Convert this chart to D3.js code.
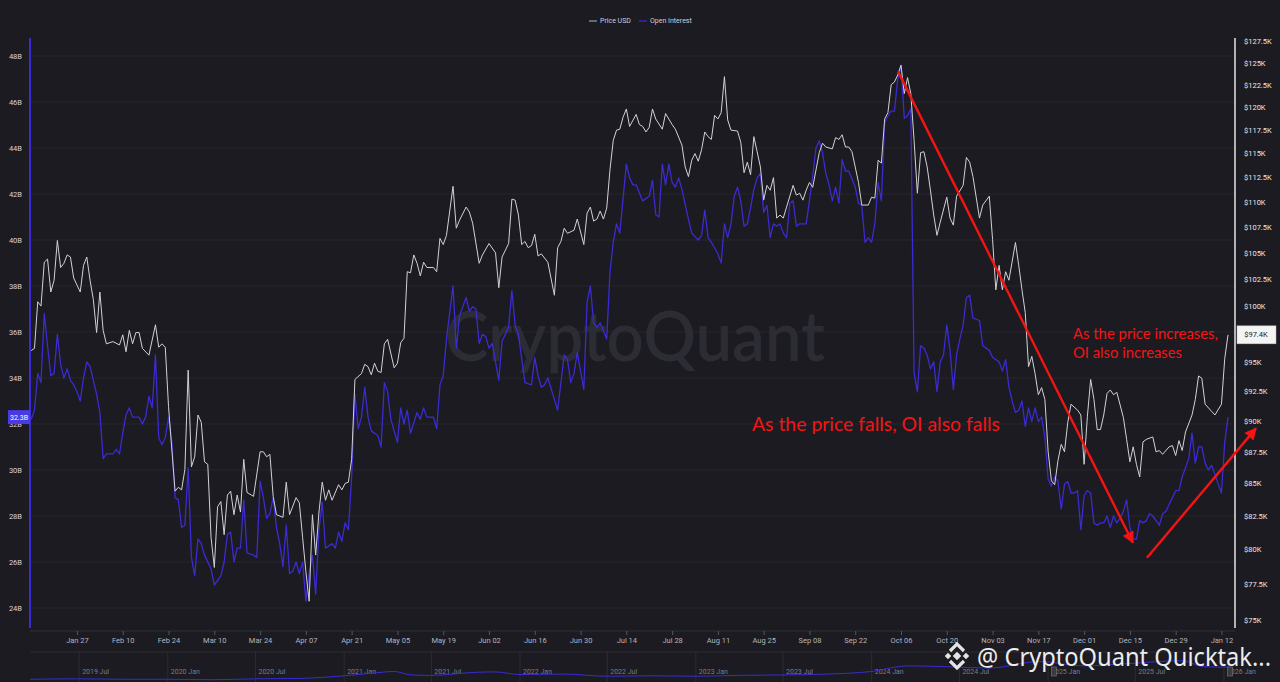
<!DOCTYPE html>
<html lang="en">
<head>
<meta charset="utf-8">
<title>Price USD vs Open Interest</title>
<script src="https://cdn.jsdelivr.net/npm/d3@7"></script>
<style>
  html, body { margin: 0; padding: 0; background: #1b1b21; }
  svg { display: block; }
  text { font-family: Roboto, "Noto Sans", sans-serif; }
</style>
</head>
<body>
<svg id="chart" width="1280" height="682"></svg>
<script>
// ---- data ----
// BTC price, thousands of USD
var priceSeries = [
  ["2025-01-13",96.0],["2025-01-14",96.2],["2025-01-15",100.4],["2025-01-16",100.0],["2025-01-17",104.1],["2025-01-18",104.4],
  ["2025-01-19",101.3],["2025-01-20",102.4],["2025-01-21",106.2],["2025-01-22",103.6],["2025-01-23",104.0],["2025-01-24",104.8],
  ["2025-01-25",104.6],["2025-01-26",102.6],["2025-01-28",101.3],["2025-01-29",103.8],["2025-01-30",104.6],["2025-01-31",102.4],
  ["2025-02-01",100.6],["2025-02-02",97.6],["2025-02-03",101.3],["2025-02-04",97.8],["2025-02-05",96.6],["2025-02-07",96.8],
  ["2025-02-09",96.5],["2025-02-10",97.4],["2025-02-11",95.9],["2025-02-12",97.8],["2025-02-13",96.6],["2025-02-14",97.6],
  ["2025-02-15",97.6],["2025-02-16",96.2],["2025-02-18",95.6],["2025-02-20",98.3],["2025-02-21",96.3],["2025-02-22",96.6],
  ["2025-02-23",96.3],["2025-02-24",91.2],["2025-02-26",84.4],["2025-02-27",84.7],["2025-02-28",84.5],["2025-03-01",86.1],
  ["2025-03-02",94.3],["2025-03-03",86.3],["2025-03-04",87.1],["2025-03-05",90.5],["2025-03-06",89.9],["2025-03-07",86.7],
  ["2025-03-08",86.5],["2025-03-09",80.9],["2025-03-10",78.7],["2025-03-11",83.2],["2025-03-12",83.6],["2025-03-13",81.1],
  ["2025-03-14",84.1],["2025-03-15",84.4],["2025-03-16",82.6],["2025-03-17",84.1],["2025-03-18",82.8],["2025-03-19",86.9],
  ["2025-03-20",84.3],["2025-03-22",84.0],["2025-03-24",87.5],["2025-03-25",87.5],["2025-03-26",87.1],["2025-03-27",87.3],
  ["2025-03-28",84.0],["2025-03-29",82.6],["2025-03-31",82.4],["2025-04-01",85.1],["2025-04-02",82.6],["2025-04-04",83.9],
  ["2025-04-05",83.5],["2025-04-06",80.9],["2025-04-07",78.4],["2025-04-08",76.3],["2025-04-09",82.6],["2025-04-10",79.6],
  ["2025-04-11",82.8],["2025-04-12",85.1],["2025-04-13",83.7],["2025-04-14",84.5],["2025-04-15",83.7],["2025-04-17",84.9],
  ["2025-04-18",84.5],["2025-04-19",85.0],["2025-04-20",85.1],["2025-04-21",86.9],["2025-04-22",93.5],["2025-04-24",94.0],
  ["2025-04-25",94.8],["2025-04-26",94.6],["2025-04-27",93.9],["2025-04-28",94.9],["2025-04-29",94.2],["2025-04-30",94.1],
  ["2025-05-01",96.6],["2025-05-02",97.0],["2025-05-04",94.5],["2025-05-05",94.9],["2025-05-06",96.7],["2025-05-07",97.1],
  ["2025-05-08",103.2],["2025-05-09",103.1],["2025-05-10",104.8],["2025-05-11",104.0],["2025-05-12",102.8],["2025-05-13",104.1],
  ["2025-05-14",103.6],["2025-05-16",103.6],["2025-05-17",103.2],["2025-05-18",106.4],["2025-05-19",105.8],["2025-05-20",106.7],
  ["2025-05-22",111.6],["2025-05-23",107.4],["2025-05-24",108.2],["2025-05-26",109.5],["2025-05-27",109.0],["2025-05-28",107.9],
  ["2025-05-30",104.0],["2025-05-31",104.8],["2025-06-02",105.9],["2025-06-04",105.0],["2025-06-05",101.7],["2025-06-06",104.6],
  ["2025-06-08",105.9],["2025-06-09",110.3],["2025-06-10",110.2],["2025-06-11",108.7],["2025-06-12",105.8],["2025-06-13",106.1],
  ["2025-06-14",105.5],["2025-06-15",105.7],["2025-06-16",106.8],["2025-06-17",104.7],["2025-06-18",104.9],["2025-06-20",104.1],
  ["2025-06-22",101.0],["2025-06-23",105.5],["2025-06-24",106.1],["2025-06-25",107.4],["2025-06-26",106.9],["2025-06-28",107.2],
  ["2025-06-29",108.3],["2025-07-01",105.8],["2025-07-02",108.9],["2025-07-03",109.5],["2025-07-04",108.1],["2025-07-05",108.3],
  ["2025-07-06",109.1],["2025-07-07",108.3],["2025-07-08",109.4],["2025-07-09",113.3],["2025-07-10",116.4],["2025-07-11",117.5],
  ["2025-07-12",117.6],["2025-07-13",118.9],["2025-07-14",119.8],["2025-07-15",117.9],["2025-07-17",119.2],["2025-07-18",118.1],
  ["2025-07-19",117.9],["2025-07-20",117.3],["2025-07-21",117.8],["2025-07-22",119.8],["2025-07-23",118.7],["2025-07-25",117.6],
  ["2025-07-26",119.3],["2025-07-28",118.1],["2025-07-29",117.6],["2025-07-31",115.9],["2025-08-01",113.6],["2025-08-02",112.6],
  ["2025-08-03",114.3],["2025-08-04",115.0],["2025-08-05",114.2],["2025-08-06",115.4],["2025-08-07",117.3],["2025-08-08",116.8],
  ["2025-08-09",116.5],["2025-08-10",119.1],["2025-08-11",118.7],["2025-08-12",119.4],["2025-08-13",123.4],["2025-08-14",118.6],
  ["2025-08-15",117.5],["2025-08-17",117.4],["2025-08-18",116.2],["2025-08-19",113.0],["2025-08-20",114.1],["2025-08-21",112.8],
  ["2025-08-22",116.8],["2025-08-23",115.2],["2025-08-24",113.6],["2025-08-25",110.2],["2025-08-26",111.7],["2025-08-27",111.2],
  ["2025-08-28",112.5],["2025-08-29",108.4],["2025-08-30",108.7],["2025-08-31",108.4],["2025-09-01",109.5],["2025-09-03",111.7],
  ["2025-09-04",110.7],["2025-09-05",110.9],["2025-09-06",110.2],["2025-09-07",111.2],["2025-09-08",112.0],["2025-09-09",111.5],
  ["2025-09-11",115.1],["2025-09-12",116.1],["2025-09-13",115.7],["2025-09-15",115.5],["2025-09-16",116.7],["2025-09-17",116.5],
  ["2025-09-18",117.0],["2025-09-19",115.7],["2025-09-20",115.7],["2025-09-21",115.2],["2025-09-22",113.6],["2025-09-23",112.0],
  ["2025-09-24",109.7],["2025-09-26",109.7],["2025-09-27",110.5],["2025-09-28",110.4],["2025-09-29",114.3],["2025-09-30",114.0],
  ["2025-10-01",118.7],["2025-10-02",119.4],["2025-10-03",122.5],["2025-10-04",122.8],["2025-10-05",123.6],["2025-10-06",124.7],
  ["2025-10-07",121.5],["2025-10-08",123.3],["2025-10-09",121.5],["2025-10-10",116.4],["2025-10-11",110.9],["2025-10-12",115.1],
  ["2025-10-13",115.2],["2025-10-14",113.6],["2025-10-15",111.2],["2025-10-16",108.7],["2025-10-17",106.7],["2025-10-18",108.0],
  ["2025-10-20",110.5],["2025-10-21",108.4],["2025-10-22",107.7],["2025-10-23",110.6],["2025-10-25",111.7],["2025-10-26",114.6],
  ["2025-10-27",114.1],["2025-10-28",112.6],["2025-10-30",108.4],["2025-10-31",109.7],["2025-11-02",110.6],["2025-11-03",106.3],
  ["2025-11-04",101.5],["2025-11-05",103.8],["2025-11-06",101.5],["2025-11-07",103.2],["2025-11-08",102.4],["2025-11-10",106.0],
  ["2025-11-11",103.8],["2025-11-12",101.5],["2025-11-13",99.4],["2025-11-14",94.6],["2025-11-15",95.5],["2025-11-16",94.0],
  ["2025-11-17",92.2],["2025-11-18",92.8],["2025-11-19",91.8],["2025-11-20",87.5],["2025-11-21",85.2],["2025-11-22",84.9],
  ["2025-11-23",86.8],["2025-11-24",88.1],["2025-11-25",87.5],["2025-11-26",89.9],["2025-11-27",91.4],["2025-11-29",90.9],
  ["2025-11-30",90.5],["2025-12-01",86.5],["2025-12-02",90.4],["2025-12-03",93.5],["2025-12-04",91.8],["2025-12-05",89.3],
  ["2025-12-06",89.3],["2025-12-07",90.5],["2025-12-08",92.3],["2025-12-09",92.6],["2025-12-10",92.2],["2025-12-11",92.4],
  ["2025-12-13",90.3],["2025-12-14",88.5],["2025-12-15",86.7],["2025-12-16",87.9],["2025-12-17",86.5],["2025-12-18",85.5],
  ["2025-12-19",88.3],["2025-12-20",88.5],["2025-12-22",88.7],["2025-12-23",87.5],["2025-12-24",87.6],["2025-12-25",87.3],
  ["2025-12-27",87.9],["2025-12-28",88.0],["2025-12-29",87.2],["2025-12-30",88.4],["2025-12-31",87.6],["2026-01-01",89.1],
  ["2026-01-03",90.5],["2026-01-04",91.8],["2026-01-05",93.8],["2026-01-06",93.6],["2026-01-07",91.4],["2026-01-09",90.8],
  ["2026-01-10",90.5],["2026-01-12",91.4],["2026-01-13",95.3],["2026-01-14",97.4]
];

// open interest, billions of USD
var oiSeries = [
  ["2025-01-13",32.2],["2025-01-14",32.6],["2025-01-15",34.2],["2025-01-16",33.8],["2025-01-17",36.8],["2025-01-18",35.4],
  ["2025-01-19",34.1],["2025-01-20",34.2],["2025-01-21",35.9],["2025-01-22",34.6],["2025-01-23",34.0],["2025-01-24",34.4],
  ["2025-01-25",33.9],["2025-01-26",33.7],["2025-01-27",33.4],["2025-01-28",33.0],["2025-01-29",34.0],["2025-01-30",34.7],
  ["2025-01-31",34.5],["2025-02-01",33.9],["2025-02-02",33.3],["2025-02-03",32.5],["2025-02-04",30.5],["2025-02-05",30.7],
  ["2025-02-07",30.7],["2025-02-08",30.9],["2025-02-09",30.7],["2025-02-10",31.6],["2025-02-11",32.4],["2025-02-12",32.7],
  ["2025-02-13",32.3],["2025-02-15",32.3],["2025-02-16",32.0],["2025-02-17",32.3],["2025-02-18",33.2],["2025-02-19",32.7],
  ["2025-02-20",35.0],["2025-02-21",31.4],["2025-02-22",31.1],["2025-02-23",31.4],["2025-02-24",32.3],["2025-02-25",31.2],
  ["2025-02-26",28.8],["2025-02-27",28.7],["2025-02-28",27.5],["2025-03-01",27.6],["2025-03-02",30.1],["2025-03-03",26.2],
  ["2025-03-04",25.4],["2025-03-05",27.0],["2025-03-06",26.8],["2025-03-07",26.3],["2025-03-09",25.7],["2025-03-10",25.0],
  ["2025-03-12",25.4],["2025-03-13",26.0],["2025-03-14",27.2],["2025-03-15",27.3],["2025-03-16",26.0],["2025-03-17",26.6],
  ["2025-03-18",26.6],["2025-03-19",28.7],["2025-03-20",26.4],["2025-03-22",26.3],["2025-03-23",26.2],["2025-03-24",29.5],
  ["2025-03-25",28.8],["2025-03-26",27.9],["2025-03-27",28.1],["2025-03-28",28.8],["2025-03-29",27.5],["2025-03-30",26.8],
  ["2025-03-31",25.8],["2025-04-01",27.6],["2025-04-02",25.5],["2025-04-03",25.6],["2025-04-04",26.0],["2025-04-05",25.5],
  ["2025-04-06",26.0],["2025-04-07",24.3],["2025-04-08",25.5],["2025-04-09",26.3],["2025-04-10",24.6],["2025-04-11",27.4],
  ["2025-04-12",28.6],["2025-04-13",26.6],["2025-04-14",26.7],["2025-04-15",26.8],["2025-04-16",26.6],["2025-04-17",27.3],
  ["2025-04-18",26.9],["2025-04-19",27.7],["2025-04-20",27.4],["2025-04-21",29.7],["2025-04-22",33.3],["2025-04-23",31.8],
  ["2025-04-24",32.3],["2025-04-25",33.6],["2025-04-26",32.3],["2025-04-27",31.7],["2025-04-29",31.5],["2025-04-30",31.0],
  ["2025-05-01",33.8],["2025-05-02",33.4],["2025-05-03",32.2],["2025-05-05",31.2],["2025-05-06",32.7],["2025-05-07",32.0],
  ["2025-05-08",32.6],["2025-05-09",31.6],["2025-05-11",32.5],["2025-05-12",32.2],["2025-05-13",32.7],["2025-05-14",32.3],
  ["2025-05-16",32.3],["2025-05-17",31.8],["2025-05-18",33.7],["2025-05-19",34.1],["2025-05-20",35.7],["2025-05-22",38.0],
  ["2025-05-23",35.3],["2025-05-24",36.7],["2025-05-26",37.5],["2025-05-27",36.9],["2025-05-28",37.1],["2025-05-29",37.0],
  ["2025-05-30",35.5],["2025-05-31",35.9],["2025-06-01",35.8],["2025-06-02",35.3],["2025-06-03",35.5],["2025-06-05",33.9],
  ["2025-06-06",35.6],["2025-06-08",36.2],["2025-06-09",37.8],["2025-06-10",36.3],["2025-06-11",35.9],["2025-06-13",33.8],
  ["2025-06-15",33.7],["2025-06-16",34.9],["2025-06-17",34.1],["2025-06-18",33.6],["2025-06-19",33.7],["2025-06-20",34.0],
  ["2025-06-23",32.6],["2025-06-25",35.0],["2025-06-26",34.8],["2025-06-27",33.8],["2025-06-28",34.2],["2025-06-29",35.1],
  ["2025-07-01",33.5],["2025-07-02",37.3],["2025-07-03",38.0],["2025-07-04",36.4],["2025-07-05",36.2],["2025-07-06",36.4],
  ["2025-07-08",35.7],["2025-07-09",38.6],["2025-07-10",39.9],["2025-07-11",40.7],["2025-07-12",40.3],["2025-07-14",43.3],
  ["2025-07-15",42.7],["2025-07-16",42.4],["2025-07-17",42.4],["2025-07-19",41.7],["2025-07-21",41.9],["2025-07-22",42.6],
  ["2025-07-23",41.1],["2025-07-24",41.0],["2025-07-25",43.3],["2025-07-26",42.4],["2025-07-27",43.3],["2025-07-28",42.5],
  ["2025-07-29",42.3],["2025-07-30",42.7],["2025-07-31",42.2],["2025-08-02",40.9],["2025-08-03",40.3],["2025-08-05",40.0],
  ["2025-08-06",40.2],["2025-08-07",41.3],["2025-08-08",40.1],["2025-08-09",39.9],["2025-08-11",39.4],["2025-08-12",39.0],
  ["2025-08-13",40.7],["2025-08-14",40.1],["2025-08-15",40.7],["2025-08-16",41.9],["2025-08-17",42.3],["2025-08-18",41.7],
  ["2025-08-19",40.6],["2025-08-20",40.7],["2025-08-21",41.4],["2025-08-22",42.2],["2025-08-23",42.7],["2025-08-24",42.9],
  ["2025-08-25",41.2],["2025-08-26",41.5],["2025-08-27",40.1],["2025-08-28",40.7],["2025-08-29",40.6],["2025-08-30",40.7],
  ["2025-08-31",40.3],["2025-09-01",40.1],["2025-09-02",41.6],["2025-09-03",41.7],["2025-09-04",40.6],["2025-09-05",40.7],
  ["2025-09-07",40.7],["2025-09-08",41.7],["2025-09-09",42.8],["2025-09-10",44.0],["2025-09-11",44.3],["2025-09-12",43.8],
  ["2025-09-13",42.9],["2025-09-14",42.4],["2025-09-15",41.7],["2025-09-16",42.3],["2025-09-17",41.6],["2025-09-18",43.5],
  ["2025-09-19",43.0],["2025-09-20",43.0],["2025-09-22",42.3],["2025-09-23",41.6],["2025-09-24",41.5],["2025-09-25",39.9],
  ["2025-09-26",40.1],["2025-09-27",39.9],["2025-09-28",40.7],["2025-09-29",42.5],["2025-09-30",41.7],["2025-10-01",45.1],
  ["2025-10-02",45.4],["2025-10-03",45.6],["2025-10-04",45.6],["2025-10-05",47.0],["2025-10-06",47.6],["2025-10-07",45.3],
  ["2025-10-08",45.4],["2025-10-09",45.7],["2025-10-10",34.2],["2025-10-11",33.4],["2025-10-12",35.4],["2025-10-13",35.3],
  ["2025-10-14",35.0],["2025-10-15",34.4],["2025-10-16",34.7],["2025-10-17",33.4],["2025-10-18",34.7],["2025-10-19",35.0],
  ["2025-10-20",36.3],["2025-10-21",35.2],["2025-10-22",33.5],["2025-10-23",35.0],["2025-10-24",35.7],["2025-10-25",36.3],
  ["2025-10-26",37.5],["2025-10-27",37.6],["2025-10-28",36.6],["2025-10-30",36.5],["2025-10-31",35.4],["2025-11-02",35.2],
  ["2025-11-03",34.9],["2025-11-05",34.7],["2025-11-06",34.3],["2025-11-07",34.8],["2025-11-08",33.6],["2025-11-09",33.0],
  ["2025-11-10",32.5],["2025-11-11",32.6],["2025-11-12",33.0],["2025-11-13",31.9],["2025-11-14",32.7],["2025-11-15",32.1],
  ["2025-11-16",32.7],["2025-11-17",32.1],["2025-11-18",32.3],["2025-11-19",31.4],["2025-11-20",29.6],["2025-11-21",29.3],
  ["2025-11-22",29.7],["2025-11-23",29.5],["2025-11-24",28.3],["2025-11-25",29.4],["2025-11-26",29.5],["2025-11-27",29.0],
  ["2025-11-28",29.0],["2025-11-29",29.1],["2025-11-30",27.4],["2025-12-01",28.9],["2025-12-02",29.1],["2025-12-03",29.0],
  ["2025-12-04",27.7],["2025-12-05",27.6],["2025-12-06",27.7],["2025-12-07",27.7],["2025-12-08",28.0],["2025-12-09",27.5],
  ["2025-12-10",28.0],["2025-12-11",27.7],["2025-12-12",27.9],["2025-12-13",28.2],["2025-12-14",28.7],["2025-12-15",27.5],
  ["2025-12-16",27.0],["2025-12-17",27.0],["2025-12-18",27.8],["2025-12-19",27.7],["2025-12-20",27.8],["2025-12-21",28.1],
  ["2025-12-22",28.0],["2025-12-24",27.6],["2025-12-25",28.1],["2025-12-26",28.2],["2025-12-27",28.5],["2025-12-28",28.8],
  ["2025-12-29",29.1],["2025-12-30",29.1],["2025-12-31",29.7],["2026-01-01",30.1],["2026-01-02",30.5],["2026-01-03",31.6],
  ["2026-01-04",30.3],["2026-01-05",31.0],["2026-01-06",31.0],["2026-01-07",30.3],["2026-01-08",30.0],["2026-01-09",30.2],
  ["2026-01-12",29.0],["2026-01-13",31.2],["2026-01-14",32.3]
];

// long-range open interest for the navigator strip, billions of USD
var navSeries = [
  ["2019-03-21",4],["2019-07-01",5],["2019-10-01",4],["2020-01-01",4],["2020-04-01",3],["2020-07-01",5],
  ["2020-10-01",6],["2021-01-01",12],["2021-03-01",18],["2021-04-15",22],["2021-05-20",14],["2021-07-01",13],
  ["2021-10-01",20],["2021-11-10",21],["2022-01-01",15],["2022-04-01",16],["2022-07-01",11],["2022-10-01",12],
  ["2023-01-01",11],["2023-04-01",13],["2023-07-01",14],["2023-10-01",16],["2024-01-01",22],["2024-03-15",35],
  ["2024-06-01",33],["2024-09-01",30],["2024-12-15",45],["2025-03-15",35],["2025-06-15",40],["2025-10-06",47],
  ["2025-11-20",33],["2026-01-14",32]
];

var xTickDates = ["2025-01-27","2025-02-10","2025-02-24","2025-03-10","2025-03-24","2025-04-07","2025-04-21",
  "2025-05-05","2025-05-19","2025-06-02","2025-06-16","2025-06-30","2025-07-14","2025-07-28","2025-08-11",
  "2025-08-25","2025-09-08","2025-09-22","2025-10-06","2025-10-20","2025-11-03","2025-11-17","2025-12-01",
  "2025-12-15","2025-12-29","2026-01-12"];
var navTickDates = ["2019-07-01","2020-01-01","2020-07-01","2021-01-01","2021-07-01","2022-01-01","2022-07-01",
  "2023-01-01","2023-07-01","2024-01-01","2024-07-01","2025-01-01","2025-07-01","2026-01-01"];
var priceTicks = [75, 77.5, 80, 82.5, 85, 87.5, 90, 92.5, 95, 97.5, 100, 102.5, 105, 107.5, 110, 112.5, 115, 117.5, 120, 122.5, 125, 127.5];
var oiTicks = [24, 26, 28, 30, 32, 34, 36, 38, 40, 42, 44, 46, 48];
var legendNames = ["Price USD", "Open Interest"];

// annotation anchors in data space: [date, price]
var fallArrow = [["2025-10-05T02:00", 124.0], ["2025-12-15T22:00", 80.5]];
var riseArrow = [["2025-12-20T05:00", 79.4], ["2026-01-22T13:00", 89.4]];
var fallNote = { text: "As the price falls, OI also falls", at: ["2025-08-21T10:00", 89.2] };
var riseNote = { lines: ["As the price increases,", "OI also increases"], at: ["2025-11-27T14:00", 97.0] };

// ---- layout ----
var W = 1280, H = 682;
var plotLeft = 30, plotRight = 1235, plotTop = 38, plotBottom = 628;
var axisY = 631, navTop = 652;
var PRICE_COLOR = "#d2d2d6", OI_COLOR = "#3b2bd2", RED = "#f41414";

var parse = d3.utcParse("%Y-%m-%d");
var parseT = d3.utcParse("%Y-%m-%dT%H:%M");
function toDate(s) { return s.length > 10 ? parseT(s) : parse(s); }

var x = d3.scaleUtc()
  .domain([parse("2025-01-13"), parse("2026-01-14")])
  .range([31.2, 1228]);
var yPrice = d3.scaleLog().domain([75, 127.5]).range([620, 41]);
var yOI = d3.scaleLinear().domain([24, 48]).range([608, 56]);
var xNav = d3.scaleUtc().domain([parse("2019-03-21"), parse("2026-01-24")]).range([plotLeft, plotRight]);
var yNav = d3.scaleLinear().domain([0, 60]).range([681, 655]);

var svg = d3.select("#chart");
svg.append("rect").attr("width", W).attr("height", H).attr("fill", "#1b1b21");

// gridlines follow the left axis
svg.append("g").selectAll("line").data(oiTicks).join("line")
  .attr("x1", plotLeft).attr("x2", plotRight)
  .attr("y1", d => yOI(d)).attr("y2", d => yOI(d))
  .attr("stroke", "#26262d").attr("stroke-width", 1);

// watermark
svg.append("text")
  .attr("x", 445).attr("y", 361)
  .attr("textLength", 380).attr("lengthAdjust", "spacingAndGlyphs")
  .style("font-family", "Lato, 'Noto Sans', sans-serif")
  .style("font-weight", 600).style("font-size", "70px")
  .attr("fill", "#2c2c35")
  .text("CryptoQuant");

// left axis (OI)
var leftAxis = svg.append("g").attr("transform", "translate(" + (plotLeft - 1) + ",0)")
  .call(d3.axisLeft(yOI).tickValues(oiTicks).tickSize(0).tickPadding(7).tickFormat(d => d + "B"));
leftAxis.select(".domain").remove();
leftAxis.selectAll("text").attr("fill", "#d6d4e6").style("font-size", "7.5px");
svg.append("line").attr("x1", plotLeft).attr("x2", plotLeft).attr("y1", plotTop).attr("y2", plotBottom)
  .attr("stroke", OI_COLOR).attr("stroke-width", 2);

// right axis (price, log)
var rightAxis = svg.append("g").attr("transform", "translate(" + plotRight + ",0)")
  .call(d3.axisRight(yPrice).tickValues(priceTicks).tickSize(0).tickPadding(9).tickFormat(d => "$" + d + "K"));
rightAxis.select(".domain").remove();
rightAxis.selectAll("text").attr("fill", "#e8e8ee").style("font-size", "7.5px");
svg.append("line").attr("x1", plotRight).attr("x2", plotRight).attr("y1", plotTop).attr("y2", plotBottom)
  .attr("stroke", "#e6e6e6").attr("stroke-width", 1.5);

// bottom axis
svg.append("line").attr("x1", plotLeft).attr("x2", plotRight).attr("y1", axisY).attr("y2", axisY)
  .attr("stroke", "#303038");
var bottomAxis = svg.append("g").attr("transform", "translate(0," + axisY + ")")
  .call(d3.axisBottom(x).tickValues(xTickDates.map(parse)).tickSize(4).tickPadding(3)
    .tickFormat(d3.utcFormat("%b %d")));
bottomAxis.select(".domain").remove();
bottomAxis.selectAll("line").attr("stroke", "#55555e");
bottomAxis.selectAll("text").attr("fill", "#b4b4bc").style("font-size", "7.5px");

// series
var priceData = priceSeries.map(d => ({ date: parse(d[0]), value: d[1] }));
var oiData = oiSeries.map(d => ({ date: parse(d[0]), value: d[1] }));

svg.append("path").datum(oiData)
  .attr("fill", "none").attr("stroke", OI_COLOR).attr("stroke-width", 1.3).attr("stroke-linejoin", "round")
  .attr("d", d3.line().x(d => x(d.date)).y(d => yOI(d.value)));
svg.append("path").datum(priceData)
  .attr("fill", "none").attr("stroke", PRICE_COLOR).attr("stroke-width", 1).attr("stroke-linejoin", "round")
  .attr("d", d3.line().x(d => x(d.date)).y(d => yPrice(d.value)));

// last-value badges
var lastOI = oiData[oiData.length - 1], lastPrice = priceData[priceData.length - 1];
svg.append("rect").attr("x", 8).attr("y", yOI(lastOI.value) - 7).attr("width", 22).attr("height", 14)
  .attr("fill", "#4a3ae4");
svg.append("text").attr("x", 19).attr("y", yOI(lastOI.value)).attr("dy", "0.35em")
  .attr("text-anchor", "middle").attr("fill", "#fff").style("font-size", "7px")
  .text(lastOI.value.toFixed(1) + "B");
svg.append("rect").attr("x", plotRight + 2).attr("y", yPrice(lastPrice.value) - 9).attr("width", 39).attr("height", 18)
  .attr("fill", "#f4f4f4").attr("stroke", "#bbb").attr("stroke-width", 0.5);
svg.append("text").attr("x", plotRight + 21).attr("y", yPrice(lastPrice.value)).attr("dy", "0.35em")
  .attr("text-anchor", "middle").attr("fill", "#222").style("font-size", "7.5px")
  .text("$" + lastPrice.value.toFixed(1) + "K");

// legend
var legendColors = [PRICE_COLOR, OI_COLOR];
var legendX = [589, 639];
legendNames.forEach(function (name, i) {
  svg.append("line").attr("x1", legendX[i]).attr("x2", legendX[i] + 8).attr("y1", 21).attr("y2", 21)
    .attr("stroke", i === 0 ? "#9a9aa2" : legendColors[i]).attr("stroke-width", 1.2);
  svg.append("text").attr("x", legendX[i] + 11).attr("y", 21).attr("dy", "0.35em")
    .attr("fill", "#cfcfd6").style("font-size", "7px").text(name);
});

// navigator strip
svg.append("line").attr("x1", plotLeft).attr("x2", plotRight).attr("y1", navTop).attr("y2", navTop)
  .attr("stroke", "#2c2c33");
var navTicks = navTickDates.map(parse);
svg.append("g").selectAll("line").data(navTicks).join("line")
  .attr("x1", d => xNav(d)).attr("x2", d => xNav(d)).attr("y1", navTop).attr("y2", H)
  .attr("stroke", "#2c2c33");
svg.append("g").selectAll("text").data(navTicks).join("text")
  .attr("x", d => xNav(d) + 3).attr("y", 674)
  .attr("fill", "#7c7c86").style("font-size", "7px")
  .text(d3.utcFormat("%Y %b"));
svg.append("path").datum(navSeries.map(d => ({ date: parse(d[0]), value: d[1] })))
  .attr("fill", "none").attr("stroke", OI_COLOR).attr("stroke-width", 1)
  .attr("d", d3.line().curve(d3.curveMonotoneX).x(d => xNav(d.date)).y(d => yNav(d.value)));
[parse("2025-01-13"), parse("2026-01-14")].forEach(function (d) {
  svg.append("rect").attr("x", xNav(d) - 2.5).attr("y", 667).attr("width", 5).attr("height", 9)
    .attr("fill", "#3a3a44").attr("stroke", "#77777f").attr("stroke-width", 0.6);
});

// annotations
var defs = svg.append("defs");
defs.append("marker").attr("id", "head").attr("viewBox", "0 0 10 10")
  .attr("refX", 9).attr("refY", 5).attr("markerWidth", 5).attr("markerHeight", 5)
  .attr("markerUnits", "strokeWidth").attr("orient", "auto")
  .append("path").attr("d", "M0,0 L10,5 L0,10 z").attr("fill", RED);

[fallArrow, riseArrow].forEach(function (a) {
  svg.append("line")
    .attr("x1", x(toDate(a[0][0]))).attr("y1", yPrice(a[0][1]))
    .attr("x2", x(toDate(a[1][0]))).attr("y2", yPrice(a[1][1]))
    .attr("stroke", RED).attr("stroke-width", 2.4).attr("marker-end", "url(#head)");
});

svg.append("text")
  .attr("x", x(toDate(fallNote.at[0]))).attr("y", yPrice(fallNote.at[1]))
  .attr("textLength", 248).attr("lengthAdjust", "spacingAndGlyphs")
  .style("font-family", "Lato, 'Open Sans', sans-serif").style("font-size", "19px")
  .attr("fill", RED).text(fallNote.text);

var rn = svg.append("text")
  .attr("x", x(toDate(riseNote.at[0]))).attr("y", yPrice(riseNote.at[1]))
  .style("font-family", "Lato, 'Open Sans', sans-serif").style("font-size", "15px")
  .attr("fill", RED);
rn.selectAll("tspan").data(riseNote.lines).join("tspan")
  .attr("x", x(toDate(riseNote.at[0]))).attr("dy", (d, i) => i === 0 ? 0 : 19)
  .attr("textLength", (d, i) => i === 0 ? 145 : 109).attr("lengthAdjust", "spacingAndGlyphs")
  .text(d => d);

// corner credit with exchange logo
var logo = svg.append("g").attr("transform", "translate(957,656)").attr("fill", "#e4e4e4").attr("stroke", "none");
logo.append("rect").attr("x", -3).attr("y", -3).attr("width", 6).attr("height", 6).attr("transform", "rotate(45)");
logo.append("rect").attr("x", -2.3).attr("y", -2.3).attr("width", 4.6).attr("height", 4.6).attr("transform", "translate(-9,0) rotate(45)");
logo.append("rect").attr("x", -2.3).attr("y", -2.3).attr("width", 4.6).attr("height", 4.6).attr("transform", "translate(9,0) rotate(45)");
logo.append("path").attr("d", "M-7,-5 L0,-12 L7,-5").attr("fill", "none").attr("stroke", "#e4e4e4").attr("stroke-width", 3.2);
logo.append("path").attr("d", "M-7,5 L0,12 L7,5").attr("fill", "none").attr("stroke", "#e4e4e4").attr("stroke-width", 3.2);

svg.append("text").attr("x", 977).attr("y", 666)
  .attr("textLength", 294).attr("lengthAdjust", "spacingAndGlyphs")
  .style("font-family", "'Noto Sans', 'Open Sans', sans-serif").style("font-size", "25px")
  .attr("fill", "#ececec")
  .text("@ CryptoQuant Quicktak...");
</script>
</body>
</html>
